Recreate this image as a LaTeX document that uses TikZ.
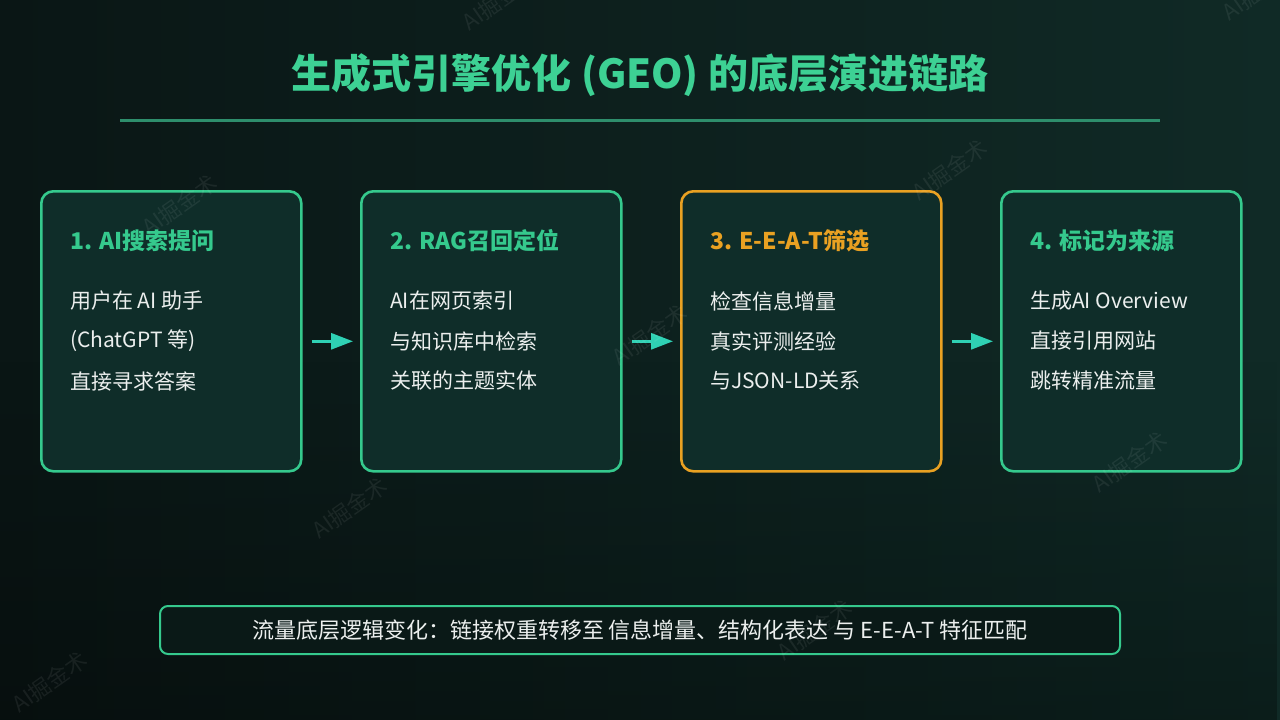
\documentclass[tikz,border=0pt]{standalone}
\usepackage{fontspec}
\setmainfont{Noto Sans CJK SC}
\usetikzlibrary{arrows.meta,fadings}
\definecolor{bgL}{HTML}{0A1615}
\definecolor{bgR}{HTML}{102A26}
\definecolor{boxfill}{HTML}{0F2D29}
\definecolor{grn}{HTML}{35C98D}
\definecolor{ttl}{HTML}{3DD194}
\definecolor{org}{HTML}{E9A122}
\definecolor{teal}{HTML}{2FD1B4}
\definecolor{txt}{HTML}{ECEFEE}
\definecolor{barfill}{HTML}{0A1917}
\definecolor{rule}{HTML}{2E8E6C}
\tikzset{
  stagebox/.style={draw=grn, line width=2.6pt, fill=boxfill, rounded corners=12pt, anchor=north west, minimum height=280pt, inner sep=0pt},
  hot/.style={draw=org},
  head/.style={anchor=west, inner sep=0pt, font=\fontsize{23}{23}\selectfont\bfseries, text=grn},
  body/.style={anchor=west, inner sep=0pt, font=\fontsize{21}{21}\selectfont, text=txt},
  bartxt/.style={anchor=center, inner sep=0pt, font=\fontsize{22}{22}\selectfont, text=txt},
  flow/.style={draw=teal, line width=3pt, -{Triangle[length=22pt,width=16pt]}},
  wm/.style={rotate=35, text=white, opacity=0.07, font=\fontsize{22}{22}\selectfont, inner sep=0pt}
}
\begin{document}
\begin{tikzpicture}[x=1pt,y=-1pt]
\useasboundingbox (0,0) rectangle (1280,720);
\shade[left color=bgL, right color=bgR] (0,0) rectangle (1280,720);
\fill[black, opacity=0.3, path fading=north] (0,360) rectangle (1280,720);
% title
\node[font=\fontsize{40}{40}\selectfont\bfseries, text=ttl, inner sep=0pt] (title) at (640,75) {生成式引擎优化 (GEO) 的底层演进链路};
\coordinate (rl) at (120,120);
\coordinate (rr) at (1160,120);
\draw[rule, line width=3pt] (rl) -- (rr);
% boxes
\node[stagebox, minimum width=260pt] (b1) at (40,190) {};
\node[stagebox, minimum width=260pt] (b2) at (360,190) {};
\node[stagebox, hot, minimum width=260pt] (b3) at (680,190) {};
\node[stagebox, minimum width=240pt] (b4) at (1000,190) {};
% box 1
\node[head] (h1) at ([shift={(30,51)}]b1.north west) {1. AI搜索提问};
\node[body] (t11) at ([shift={(30,111)}]b1.north west) {用户在 AI 助手};
\node[body] (t12) at ([shift={(30,151)}]b1.north west) {(ChatGPT 等)};
\node[body] (t13) at ([shift={(30,191)}]b1.north west) {直接寻求答案};
% box 2
\node[head] (h2) at ([shift={(30,51)}]b2.north west) {2. RAG召回定位};
\node[body] (t21) at ([shift={(30,111)}]b2.north west) {AI在网页索引};
\node[body] (t22) at ([shift={(30,151)}]b2.north west) {与知识库中检索};
\node[body] (t23) at ([shift={(30,191)}]b2.north west) {关联的主题实体};
% box 3
\node[head, text=org] (h3) at ([shift={(30,51)}]b3.north west) {3. E-E-A-T筛选};
\node[body] (t31) at ([shift={(30,111)}]b3.north west) {检查信息增量};
\node[body] (t32) at ([shift={(30,151)}]b3.north west) {真实评测经验};
\node[body] (t33) at ([shift={(30,191)}]b3.north west) {与JSON-LD关系};
% box 4
\node[head] (h4) at ([shift={(30,51)}]b4.north west) {4. 标记为来源};
\node[body] (t41) at ([shift={(30,111)}]b4.north west) {生成AI Overview};
\node[body] (t42) at ([shift={(30,151)}]b4.north west) {直接引用网站};
\node[body] (t43) at ([shift={(30,191)}]b4.north west) {跳转精准流量};
% arrows
\draw[flow] ([shift={(9,10)}]b1.east) -- ([shift={(-7,10)}]b2.west);
\draw[flow] ([shift={(9,10)}]b2.east) -- ([shift={(-7,10)}]b3.west);
\draw[flow] ([shift={(9,10)}]b3.east) -- ([shift={(-7,10)}]b4.west);
% bottom bar
\node[draw=grn, line width=2pt, fill=barfill, rounded corners=8pt, minimum width=960pt, minimum height=48pt, inner sep=0pt] (bar) at (640,630) {};
\node[bartxt] (bartext) at (bar.center) {流量底层逻辑变化：链接权重转移至 信息增量、结构化表达 与 E-E-A-T 特征匹配};
% watermarks
\node[wm] (w1) at (180,205) {AI掘金术};
\node[wm] (w2) at (950,170) {AI掘金术};
\node[wm] (w3) at (650,335) {AI掘金术};
\node[wm] (w4) at (350,508) {AI掘金术};
\node[wm] (w5) at (1130,462) {AI掘金术};
\node[wm] (w6) at (815,630) {AI掘金术};
\node[wm] (w7) at (50,682) {AI掘金术};
\node[wm] (w8) at (500,0) {AI掘金术};
\node[wm] (w9) at (1260,-10) {AI掘金术};
\end{tikzpicture}
\end{document}
